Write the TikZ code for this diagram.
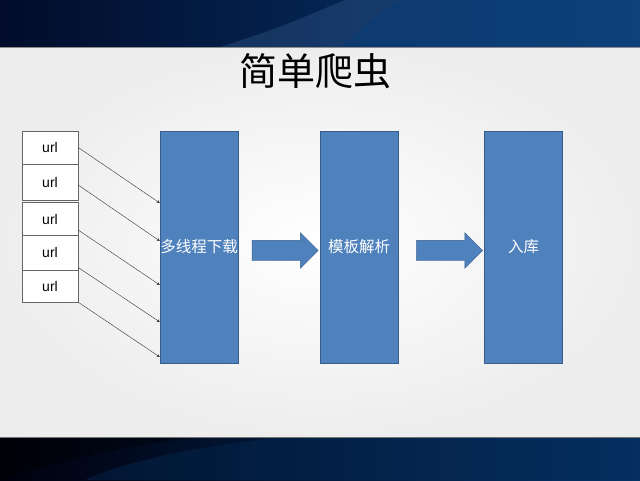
\documentclass[tikz,border=0pt]{standalone}
\usepackage{fontspec}
\setmainfont{Liberation Sans}
\newfontfamily\cjk{Noto Sans CJK SC}
\usetikzlibrary{shapes.arrows,positioning}

\definecolor{boxblue}{RGB}{79,129,189}
\definecolor{boxedge}{RGB}{56,93,138}
\definecolor{navy}{RGB}{2,12,42}
\definecolor{seablue}{RGB}{6,58,118}

\tikzset{
    urlbox/.style={draw=black!60, fill=white, minimum width=56pt, inner sep=0pt,
        font=\fontsize{14}{14}\selectfont},
    stage/.style={draw=boxedge, fill=boxblue, minimum width=78pt, minimum height=232pt,
        inner sep=0pt, text=white, font=\cjk\fontsize{15.5}{16}\selectfont},
    flow/.style={single arrow, draw=boxedge, fill=boxblue, minimum width=35pt,
        minimum height=66pt, single arrow head extend=7.5pt, single arrow head indent=0pt,
        inner xsep=0pt, inner ysep=10pt},
    feed/.style={->, >=stealth, black!80, thin, shorten >=0pt}
}

\begin{document}
\begin{tikzpicture}[x=1pt,y=-1pt]
\useasboundingbox (0,0) rectangle (640,480);
% background
\shade [inner color=white, outer color=black!7] (0,47) rectangle (640,437);
\shade [left color=navy, right color=seablue] (0,0) rectangle (640,47);
\fill [seablue!80!white, opacity=0.35] (220,47) .. controls (290,25) and (320,10) .. (345,0)
    -- (640,0) -- (640,47) -- cycle;
\fill [seablue, opacity=0.5] (340,47) .. controls (360,30) and (380,12) .. (400,0)
    -- (640,0) -- (640,47) -- cycle;
\draw [black!45, line width=1pt] (0,47) -- (640,47);
\shade [left color=black!95!blue, right color=seablue!90!black] (0,437) rectangle (640,480);
\fill [seablue!70!black, opacity=0.45] (85,480) .. controls (140,455) and (220,445) .. (280,437)
    -- (640,437) -- (640,480) -- cycle;
\fill [black, opacity=0.35] (0,480) .. controls (60,460) and (130,445) .. (200,437) -- (0,437) -- cycle;
\draw [black!55, line width=1pt] (0,437) -- (640,437);

\node (title) at (315,71) {\cjk\fontsize{38}{38}\selectfont 简单爬虫};

% url list
\node [urlbox, minimum height=33pt] (u1) at (50,147.5) {url};
\node [urlbox, minimum height=36pt] (u2) at (50,182) {url};
\node [urlbox, minimum height=33pt] (u3) at (50,219) {url};
\node [urlbox, minimum height=35pt] (u4) at (50,252.5) {url};
\node [urlbox, minimum height=32pt] (u5) at (50,286) {url};

% stages
\node [stage] (dl) at (199,247) {};
\node [stage] (tpl) at (359,247) {模板解析};
\node [stage] (db) at (523.5,247) {入库};
\node [text=white, font=\cjk\fontsize{15.5}{16}\selectfont] (dltext) at (dl) {多线程下载};

\node [flow] (f1) at (280,250.5) {};
\node [flow] (f2) at (444.5,250.5) {};

\coordinate (e1) at (dl.north west |- 0,203);
\coordinate (e2) at (dl.north west |- 0,241);
\coordinate (e3) at (dl.north west |- 0,285);
\coordinate (e4) at (dl.north west |- 0,322);
\coordinate (e5) at (dl.north west |- 0,357);

\draw [feed] (u1.east) -- (e1);
\draw [feed] ([yshift=-3pt]u2.east) -- (e2);
\draw [feed] ([yshift=-11pt]u3.east) -- (e3);
\draw [feed] ([yshift=-15pt]u4.east) -- (e4);
\draw [feed] (u5.south east) -- (e5);
\end{tikzpicture}
\end{document}
